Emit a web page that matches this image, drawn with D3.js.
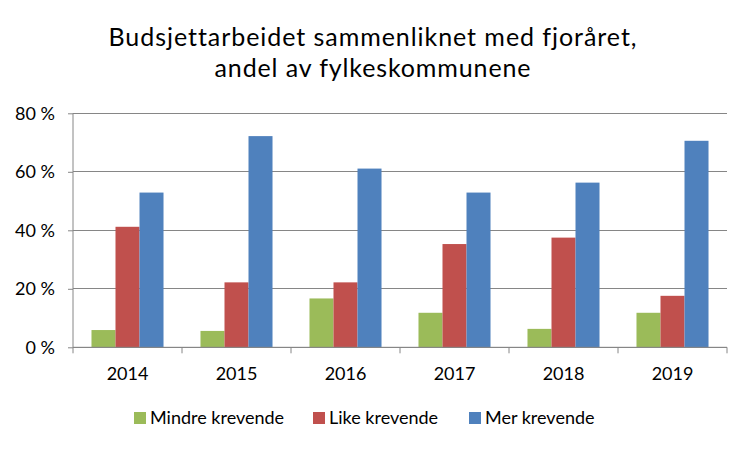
<!DOCTYPE html>
<html><head><meta charset="utf-8">
<script src="https://cdn.jsdelivr.net/npm/d3@7"></script>
<style>body{margin:0;background:#fff}svg{display:block}text{font-family:Lato,"Open Sans",sans-serif;fill:#000;font-variant-ligatures:none;font-feature-settings:"liga" 0}</style>
</head><body><svg id="c" width="750" height="450"></svg>
<script>
const categories = ["2014","2015","2016","2017","2018","2019"];
const seriesNames = ["Mindre krevende","Like krevende","Mer krevende"];
const mindre = [5.9, 5.6, 16.7, 11.8, 6.3, 11.8];
const like   = [41.2, 22.2, 22.2, 35.3, 37.5, 17.6];
const mer    = [52.9, 72.2, 61.1, 52.9, 56.3, 70.6];
const yTicks = [0, 20, 40, 60, 80];
const colors = ["#9BBB59","#C0504D","#4F81BD"];
const titleLines = ["Budsjettarbeidet sammenliknet med fjoråret,","andel av fylkeskommunene"];
const titleWidths = [528, 316];

const series = [mindre, like, mer];
const svg = d3.select("#c");
const L=73, R=727, T=113.3, B=347.3;
const x0 = d3.scaleBand().domain(categories).range([L,R]).paddingInner(0).paddingOuter(0);
const x1 = d3.scaleBand().domain(seriesNames).range([0,x0.bandwidth()]).paddingInner(0).paddingOuter(0.77);
const y = d3.scaleLinear().domain([0,80]).range([B,T]);

// gridlines
svg.append("g").selectAll("line").data(yTicks).join("line")
  .attr("x1",L).attr("x2",R).attr("y1",d=>y(d)).attr("y2",d=>y(d))
  .attr("stroke","#868686").attr("stroke-width",1).attr("shape-rendering","crispEdges");

// bars
categories.forEach((c,i)=>{
  series.forEach((s,j)=>{
    svg.append("rect").attr("x",x0(c)+x1(seriesNames[j])).attr("width",x1.bandwidth())
      .attr("y",y(s[i])).attr("height",B-y(s[i])).attr("fill",colors[j]);
  });
});

// y axis
const ya = svg.append("g").attr("transform",`translate(${L},0)`)
  .call(d3.axisLeft(y).tickValues(yTicks).tickSize(5).tickPadding(13).tickFormat(d=>d+" %"));
ya.select(".domain").attr("stroke","#868686").attr("d",`M0,${T}V${B}`);
ya.selectAll(".tick line").attr("stroke","#868686");
ya.selectAll(".tick text").attr("font-size",18).attr("font-family","Lato").attr("fill","#000");

// x axis
const xa = svg.append("g").attr("transform",`translate(0,${B})`)
  .call(d3.axisBottom(x0).tickSize(0).tickPadding(20));
xa.select(".domain").attr("stroke","#868686").attr("d",`M${L},0H${R}`);
xa.selectAll(".tick text").attr("font-size",18).attr("font-family","Lato").attr("fill","#000");
const bounds = categories.map(c=>x0(c)).concat([R]);
xa.selectAll(".bt").data(bounds).join("line").attr("class","bt")
  .attr("x1",d=>d).attr("x2",d=>d).attr("y1",0).attr("y2",6).attr("stroke","#868686");

// title
svg.append("g").selectAll("text").data(titleLines).join("text")
  .attr("x",372.5).attr("y",(d,i)=>46+i*31).attr("text-anchor","middle")
  .attr("font-size",25).attr("textLength",(d,i)=>titleWidths[i]).attr("lengthAdjust","spacing")
  .text(d=>d);

// legend
const legX = [134, 313, 469];
const lg = svg.append("g").selectAll("g").data(seriesNames).join("g")
  .attr("transform",(d,i)=>`translate(${legX[i]},412)`);
lg.append("rect").attr("width",12).attr("height",12).attr("fill",(d,i)=>colors[i]);
lg.append("text").attr("x",16).attr("y",12).attr("font-size",18).text(d=>d);
</script></body></html>
